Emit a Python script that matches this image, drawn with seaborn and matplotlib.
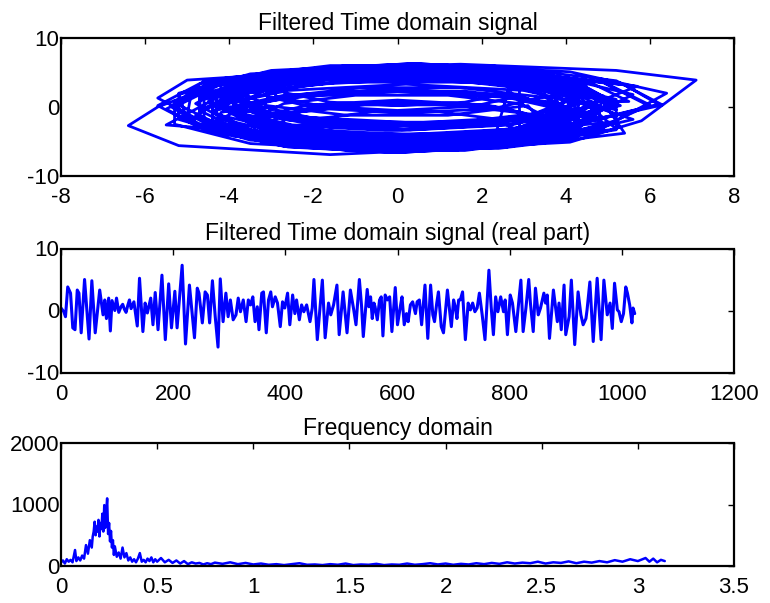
import matplotlib
matplotlib.use("Agg")
import matplotlib.pyplot as plt
import seaborn as sns

# Complex signal trajectory: real part (x) against imaginary part (y)
traj_re = [
    4.8, 3.9, 1.7, -1.1, -3.3, -4.2, -3.3, -1.1, 1.7, 3.9,
    4.3, 2.7, 0.0, -2.7, -4.3, -4.3, -2.7, 0.0, 2.7, 4.3,
    5.3, 4.3, 1.5, -1.9, -4.7, -5.7, -4.7, -1.9, 1.5, 4.3,
    5.2, 3.4, 0.3, -2.8, -4.6, -4.6, -2.8, 0.3, 3.4, 5.2,
    3.7, 3.0, 1.3, -0.9, -2.6, -3.3, -2.6, -0.9, 1.3, 3.0,
    4.8, 3.0, 0.2, -2.6, -4.4, -4.4, -2.6, 0.2, 3.0, 4.8,
    6.0, 4.9, 2.1, -1.3, -4.1, -5.2, -4.1, -1.3, 2.1, 4.9,
    6.4, 4.1, 0.4, -3.0, -5.2, -5.0, -3.0, 0.4, 4.1, 5.8,
    7.1, 5.2, 1.5, -2.0, -4.4, -5.7, -6.4, -5.2, -1.6, 2.7, 5.2,
    5.2, 4.3, 1.7, -1.4, -3.9, -4.8, -3.9, -1.4, 1.7, 4.3,
    3.5, 2.1, -0.3, -2.7, -4.1, -4.1, -2.7, -0.3, 2.1, 3.5,
    4.4, 3.6, 1.5, -1.1, -3.2, -4.0, -3.2, -1.1, 1.5, 3.6,
    4.4, 2.7, 0.0, -2.7, -4.4, -4.4, -2.7, 0.0, 2.7, 4.4,
    3.6, 2.9, 1.2, -1.0, -2.7, -3.4, -2.7, -1.0, 1.2, 2.9,
    5.7, 3.2, 0.0, -3.2, -4.9, -5.0, -3.2, 0.0, 3.2, 5.1,
    6.2, 5.4, 2.4, -1.4, -4.4, -5.5, -4.4, -1.4, 2.4, 5.4,
    4.8, 3.0, 0.2, -2.6, -4.4, -4.4, -2.6, 0.2, 3.0, 4.8,
    4.3, 3.5, 1.5, -0.9, -2.9, -3.7, -2.9, -0.9, 1.5, 3.5,
    4.3, 2.8, 0.3, -2.2, -3.7, -3.7, -2.2, 0.3, 2.8, 4.3,
    5.2, 4.2, 1.5, -1.7, -5.0, -5.7, -4.4, -1.7, 1.5, 4.2,
    5.0, 4.1, 1.8, -1.0, -3.3, -4.2, -3.3, -1.0, 1.8, 4.1,
    3.5, 2.3, 0.2, -1.9, -3.1, -3.1, -1.9, 0.2, 2.3, 3.5,
    5.2, 4.3, 1.7, -1.4, -3.9, -5.5, -3.9, -1.4, 1.7, 4.3,
    4.3, 2.7, 0.1, -2.5, -4.1, -4.1, -2.5, 0.1, 2.7, 4.3,
    4.5, 3.7, 1.5, -1.3, -3.5, -4.3, -3.5, -1.3, 1.5, 3.7,
    3.4, 2.1, 0.0, -2.1, -3.4, -3.4, -2.1, 0.0, 2.1, 3.4,
    6.0, 4.9, 2.0, -1.6, -4.5, -5.4, -4.5, -1.6, 2.0, 4.9,
    4.7, 2.9, 0.0, -2.9, -4.7, -4.7, -2.9, 0.0, 2.9, 4.7,
    5.2, 4.3, 1.7, -1.4, -3.9, -4.8, -3.9, -1.4, 1.7, 4.3,
    4.2, 2.6, 0.0, -2.6, -4.2, -4.2, -2.6, 0.0, 2.6, 4.2,
    4.8, 3.9, 1.6, -1.2, -3.5, -4.4, -3.5, -1.2, 1.6, 3.9,
    5.6, 3.5, 0.0, -3.5, -5.2, -5.2, -3.5, 0.0, 3.5, 5.6,
    4.2, 3.5, 1.5, -0.9, -2.9, -3.6, -2.9, -0.9, 1.5, 3.5,
    4.5, 2.9, 0.4, -2.1, -3.7, -3.7, -2.1, 0.4, 2.9, 4.5,
    5.5, 4.5, 2.1, -1.1, -3.5, -4.5, -3.5, -1.1, 2.1, 4.5,
    4.9, 2.9, -0.3, -3.5, -5.3, -5.3, -3.5, -0.3, 2.9, 4.9,
    3.9, 3.2, 1.2, -1.2, -3.2, -3.9, -3.2, -1.2, 1.2, 3.2,
    4.3, 2.7, 0.2, -2.3, -3.9, -3.9, -2.3, 0.2, 2.7, 4.3,
    4.7, 3.8, 1.5, -1.5, -3.8, -4.7, -3.8, -1.5, 1.5, 3.8,
    4.9, 3.1, 0.1, -2.9, -4.7, -4.7, -2.9, 0.1, 3.1, 4.9,
    6.3, 5.2, 2.2, -1.6, -4.6, -5.3, -4.6, -1.6, 2.2, 5.2,
    4.2, 2.7, 0.3, -2.1, -3.6, -3.6, -2.1, 0.3, 2.7, 4.2,
    3.6, 2.3, 0.2, -1.9, -3.2, -3.2, -1.9, 0.2, 2.3, 3.6,
    3.8, 3.1, 1.2, -1.2, -3.1, -3.8, -3.1, -1.2, 1.2, 3.1,
    3.5, 2.9, 1.3, -0.7, -2.3, -2.9, -2.3, -0.7, 1.3, 2.9,
    2.9, 1.8, 0.0, -1.8, -2.9, -2.9, -1.8, 0.0, 1.8, 2.9,
    4.7, 3.8, 1.6, -1.2, -3.4, -4.3, -3.4, -1.2, 1.6, 3.8,
    4.2, 2.6, 0.0, -2.6, -4.2, -4.2, -2.6, 0.0, 2.6, 4.2,
    2.8, 2.3, 1.0, -0.6, -1.9, -2.4, -1.9, -0.6, 1.0, 2.3,
    2.7, 1.6, 0.0, -1.6, -2.7, -2.7, -1.6, 0.0, 1.6, 2.7,
    3.0,
]
traj_im = [
    1.5, 4.2, 5.8, 5.8, 4.2, 1.5, -1.2, -2.8, -2.8, -1.2,
    1.7, 3.9, 4.8, 3.9, 1.7, -1.1, -3.3, -4.2, -3.3, -1.1,
    0.2, 3.4, 5.4, 5.4, 3.4, 0.2, -3.0, -5.0, -5.0, -3.0,
    1.1, 3.7, 4.7, 3.7, 1.1, -2.1, -4.7, -5.7, -4.7, -2.1,
    -3.0, -0.9, 0.3, 0.3, -0.9, -3.0, -5.1, -6.3, -6.3, -5.1,
    0.0, 2.4, 3.3, 2.4, 0.0, -3.0, -5.4, -6.3, -5.4, -3.0,
    0.3, 3.6, 5.6, 5.6, 3.6, 0.3, -3.0, -5.0, -5.0, -3.0,
    2.0, 5.1, 6.3, 5.3, 2.0, -2.0, -5.1, -6.3, -5.1, -2.0,
    3.9, 5.3, 6.2, 5.6, 3.0, 0.0, -2.7, -5.6, -6.9, -5.7, -3.3,
    0.5, 3.5, 5.3, 5.3, 3.5, 0.5, -2.5, -4.3, -4.3, -2.5,
    1.8, 3.8, 4.6, 3.8, 1.8, -0.6, -2.6, -3.4, -2.6, -0.6,
    1.8, 4.3, 5.8, 5.8, 4.3, 1.8, -0.7, -2.2, -2.2, -0.7,
    -0.6, 1.7, 2.6, 1.7, -0.6, -3.4, -5.7, -6.6, -5.7, -3.4,
    -1.6, 0.5, 1.7, 1.7, 0.5, -1.6, -3.7, -4.9, -4.9, -3.7,
    3.0, 4.8, 5.8, 4.8, 2.1, -1.3, -3.9, -5.0, -4.0, -1.3,
    0.4, 3.2, 5.4, 5.4, 3.2, -0.3, -3.8, -6.0, -6.0, -3.8,
    1.5, 3.9, 4.8, 3.9, 1.5, -1.5, -3.9, -4.8, -3.9, -1.5,
    -1.0, 1.4, 2.8, 2.8, 1.4, -1.0, -3.4, -4.8, -4.8, -3.4,
    1.1, 3.2, 4.0, 3.2, 1.1, -1.5, -3.6, -4.4, -3.6, -1.5,
    0.2, 3.3, 5.2, 5.2, 3.9, 1.3, -2.9, -4.8, -4.8, -2.9,
    0.5, 3.2, 4.9, 4.9, 3.2, 0.5, -2.2, -3.9, -3.9, -2.2,
    3.7, 5.4, 6.1, 5.4, 3.7, 1.5, -0.2, -0.9, -0.2, 1.5,
    -0.4, 2.6, 4.4, 4.4, 2.6, -2.6, -3.4, -5.2, -5.2, -3.4,
    2.4, 4.6, 5.4, 4.6, 2.4, -0.4, -2.6, -3.4, -2.6, -0.4,
    0.2, 2.8, 4.4, 4.4, 2.8, 0.2, -2.4, -4.0, -4.0, -2.4,
    -1.5, 0.3, 1.0, 0.3, -1.5, -3.7, -5.5, -6.2, -5.5, -3.7,
    0.1, 3.5, 5.6, 5.6, 3.5, 0.1, -3.3, -5.4, -5.4, -3.3,
    1.3, 3.8, 4.7, 3.8, 1.3, -1.7, -4.2, -5.1, -4.2, -1.7,
    -1.2, 1.8, 3.6, 3.6, 1.8, -1.2, -4.2, -6.0, -6.0, -4.2,
    -0.8, 1.4, 2.2, 1.4, -0.8, -3.6, -5.8, -6.6, -5.8, -3.6,
    -0.6, 2.1, 3.8, 3.8, 2.1, -0.6, -3.3, -5.0, -5.0, -3.3,
    1.8, 4.8, 5.9, 4.8, 1.8, -1.8, -4.8, -5.9, -4.8, -1.8,
    1.0, 3.3, 4.7, 4.7, 3.3, 1.0, -1.3, -2.7, -2.7, -1.3,
    3.3, 5.5, 6.3, 5.5, 3.3, 0.7, -1.5, -2.3, -1.5, 0.7,
    0.8, 3.8, 5.6, 5.6, 3.8, 0.8, -2.2, -4.0, -4.0, -2.2,
    0.9, 3.7, 4.7, 3.7, 0.9, -2.5, -5.3, -6.3, -5.3, -2.5,
    1.2, 3.5, 4.9, 4.9, 3.5, 1.2, -1.1, -2.5, -2.5, -1.1,
    1.6, 3.8, 4.6, 3.8, 1.6, -1.0, -3.2, -4.0, -3.2, -1.0,
    -0.5, 2.3, 4.0, 4.0, 2.3, -0.5, -3.3, -5.0, -5.0, -3.3,
    1.6, 4.1, 5.1, 4.1, 1.6, -1.6, -4.1, -5.1, -4.1, -1.6,
    0.3, 3.8, 6.0, 6.0, 3.8, 0.3, -3.2, -5.4, -5.4, -3.2,
    2.1, 4.1, 4.9, 4.1, 2.1, -0.5, -2.5, -3.3, -2.5, -0.5,
    -1.7, 0.1, 0.8, 0.1, -1.7, -3.9, -5.7, -6.4, -5.7, -3.9,
    2.4, 4.6, 6.0, 6.0, 4.6, 2.4, 0.2, -1.2, -1.2, 0.2,
    -2.6, -0.7, 0.4, 0.4, -0.7, -2.6, -4.5, -5.6, -5.6, -4.5,
    3.4, 4.9, 5.5, 4.9, 3.4, 1.6, 0.1, -0.5, 0.1, 1.6,
    -2.0, 0.6, 2.3, 2.3, 0.6, -2.0, -4.6, -6.3, -6.3, -4.6,
    3.1, 5.3, 6.1, 5.3, 3.1, 0.3, -1.9, -2.7, -1.9, 0.3,
    -3.2, -1.7, -0.7, -0.7, -1.7, -3.2, -4.7, -5.7, -5.7, -4.7,
    3.9, 5.3, 5.8, 5.3, 3.9, 2.1, 0.7, 0.2, 0.7, 2.1,
    0.3,
]

# Real part against sample index
sample_idx = [
    0, 5, 8, 12, 17, 21, 25, 29, 32, 36, 42, 50, 55, 61, 69, 75, 78, 81, 85, 88,
    91, 96, 99, 103, 107, 110, 113, 116, 119, 122, 125, 130, 136, 140, 146, 150,
    154, 160, 164, 168, 173, 180, 186, 192, 197, 203, 207, 216, 222, 229, 238,
    243, 246, 252, 257, 261, 265, 270, 275, 280, 284, 289, 294, 298, 302, 307,
    312, 316, 320, 325, 330, 334, 338, 342, 346, 350, 353, 358, 361, 366, 370,
    374, 377, 382, 386, 391, 395, 399, 404, 408, 413, 417, 420, 425, 429, 433,
    438, 444, 448, 451, 457, 466, 471, 477, 481, 486, 492, 496, 503, 510, 516,
    522, 526, 532, 536, 539, 546, 549, 552, 555, 558, 560, 564, 568, 571, 574,
    578, 582, 586, 590, 596, 600, 605, 608, 612, 616, 619, 623, 627, 632, 635,
    639, 643, 649, 654, 659, 663, 666, 670, 673, 678, 682, 689, 696, 700, 703,
    706, 709, 712, 716, 721, 726, 730, 734, 738, 742, 746, 751, 756, 763, 767,
    771, 775, 779, 784, 789, 792, 796, 801, 805, 811, 820, 824, 829, 834, 837,
    842, 846, 851, 855, 861, 864, 867, 871, 878, 885, 888, 892, 897, 900, 906,
    910, 916, 922, 927, 931, 936, 938, 943, 949, 956, 963, 968, 974, 979, 983,
    987, 992, 995, 999, 1003, 1007, 1010, 1014, 1018, 1020, 1023,
]
real_part = [
    0.4, -0.2, -1.0, 3.8, 2.8, -2.8, -3.1, 3.3, 2.8, -3.6, 5.0, -4.6, 4.8, -3.6, 3.3, -0.7, 1.7, -1.3, 2.0, -3.3,
    1.6, 0.0, 2.0, -0.3, 0.6, 1.0, 0.2, -0.3, 0.8, 1.7, 0.3, 1.4, -2.5, 5.2, -3.4, 1.2,
    -0.4, 2.0, -2.3, 2.9, -3.1, 5.7, -4.7, 4.3, -2.8, 3.1, -2.8, 7.3, -5.4, 4.1, -4.4,
    3.6, 2.8, -2.0, 3.0, 2.5, -2.0, 4.8, -1.0, -5.9, 5.1, -1.8, 2.8, -1.0, 1.7, -1.5,
    -0.7, 2.0, -0.2, 1.7, -1.8, 1.7, 0.9, 2.2, -1.8, 0.6, -3.1, 2.8, 3.0, -3.6, 1.7,
    3.0, 0.6, 2.2, 1.2, -2.6, 1.4, 0.4, 2.8, -2.3, 2.5, -0.5, 1.7, -1.5, 0.9, -0.2,
    0.9, -1.8, 0.4, 5.0, -4.7, 4.9, -4.4, 1.2, -0.7, 0.9, 4.1, -3.9, 3.0, -3.6, 3.3,
    0.1, -2.3, 5.0, 0.6, -4.2, 3.4, 0.6, 2.2, -1.3, 1.2, 0.6, -1.5, 1.7, 2.2, -4.1,
    2.5, 1.7, 2.2, -3.4, 3.7, -2.3, 0.6, 2.2, -2.3, -0.5, -1.8, 0.9, 1.4, -0.5, 1.4,
    1.7, -2.3, 4.1, -4.5, 4.1, -0.7, -1.8, 1.2, 3.0, -2.6, -3.6, 3.3, -2.6, 1.7, 0.6,
    -1.3, 1.7, 1.7, 3.0, -4.7, 1.2, 0.1, 1.2, -0.2, 0.4, 2.8, -0.7, -4.7, 6.5, 0.6,
    -3.9, 2.2, -0.2, 2.2, -0.2, 1.7, -3.9, 2.5, 1.2, -3.4, 4.9, -3.4, 0.4, 5.0, 1.2,
    -3.4, 3.6, -0.7, 0.4, 2.8, 1.2, 2.5, -4.5, 3.3, -1.8, 1.2, -3.1, 4.1, -3.9, -1.0,
    4.9, -5.5, 3.0, -0.7, -2.3, -1.3, 0.1, 4.6, -5.0, 5.2, -4.7, 4.9, -0.7, 1.2, -2.9,
    4.4, 0.1, -0.2, -1.8, -0.5, 3.8, 2.8, 0.9, -2.0, 0.4, -0.5,
]

# Magnitude spectrum against frequency (rad/sample)
freq = [
    0.00, 0.01, 0.02, 0.03, 0.04, 0.05, 0.06, 0.073, 0.08, 0.09, 0.10, 0.11,
    0.12, 0.13, 0.14, 0.15, 0.16, 0.165, 0.17, 0.175, 0.18, 0.185, 0.19, 0.195,
    0.20, 0.205, 0.21, 0.215, 0.22, 0.225, 0.23, 0.235, 0.24, 0.245, 0.25, 0.255,
    0.26, 0.265, 0.27, 0.275, 0.28, 0.29, 0.30, 0.31, 0.32, 0.33, 0.34, 0.35,
    0.36, 0.37, 0.38, 0.39, 0.40, 0.41, 0.42, 0.43, 0.44, 0.45, 0.46, 0.47,
    0.48, 0.49, 0.50, 0.52, 0.54, 0.56, 0.58, 0.60, 0.62, 0.64, 0.66, 0.68,
    0.70, 0.72, 0.74, 0.76, 0.78, 0.80, 0.84, 0.88, 0.92, 0.96, 1.00, 1.04,
    1.08, 1.12, 1.16, 1.20, 1.24, 1.28, 1.32, 1.36, 1.40, 1.44, 1.48, 1.52,
    1.56, 1.60, 1.64, 1.68, 1.72, 1.76, 1.80, 1.84, 1.88, 1.92, 1.96, 2.00,
    2.04, 2.08, 2.12, 2.16, 2.20, 2.24, 2.28, 2.32, 2.36, 2.40, 2.44, 2.48,
    2.52, 2.56, 2.60, 2.64, 2.68, 2.72, 2.76, 2.80, 2.84, 2.88, 2.92, 2.96,
    3.00, 3.04, 3.06, 3.08, 3.10, 3.12, 3.14,
]
magnitude = [
    60, 90, 40, 110, 70, 100, 60, 260, 80, 140, 90, 170,
    120, 340, 200, 420, 300, 480, 560, 720, 500, 640, 560, 750,
    480, 700, 600, 850, 560, 990, 620, 880, 1100, 520, 700, 400,
    570, 300, 420, 180, 320, 150, 220, 120, 300, 140, 210, 90,
    140, 70, 110, 60, 120, 210, 70, 100, 60, 120, 80, 140,
    60, 110, 70, 130, 60, 100, 50, 90, 40, 80, 30, 60,
    40, 50, 25, 45, 30, 55, 35, 60, 30, 50, 25, 40,
    20, 30, 15, 30, 45, 20, 25, 15, 30, 20, 40, 15,
    25, 20, 35, 15, 25, 20, 40, 20, 30, 45, 25, 40,
    20, 35, 25, 45, 30, 50, 35, 60, 40, 55, 45, 70,
    40, 60, 50, 75, 45, 70, 55, 80, 60, 95, 70, 110,
    80, 130, 70, 120, 60, 100, 80,
]

sns.set_theme(style="white")
plt.rcParams["font.family"] = ["Liberation Sans", "DejaVu Sans"]
plt.rcParams["axes.unicode_minus"] = False

LINE = "#0000ff"
TICK_FS = 16
TITLE_FS = 16.5

fig = plt.figure(figsize=(7.7, 6.03), dpi=100)
W, H = 770.0, 603.0
ax1 = fig.add_axes([61 / W, 1 - 176 / H, 673 / W, 138 / H])
ax2 = fig.add_axes([61 / W, 1 - 372.5 / H, 673 / W, 124 / H])
ax3 = fig.add_axes([61 / W, 1 - 566 / H, 673 / W, 123 / H])

sns.lineplot(x=traj_re, y=traj_im, sort=False, estimator=None,
             color=LINE, lw=2.0, ax=ax1)
sns.lineplot(x=sample_idx, y=real_part, sort=False, estimator=None,
             color=LINE, lw=2.2, ax=ax2)
sns.lineplot(x=freq, y=magnitude, sort=False, estimator=None,
             color=LINE, lw=1.8, ax=ax3)


def style(ax, xlim, xticks, xlabels, ylim, yticks, ylabels, title):
    ax.set_xlim(*xlim)
    ax.set_ylim(*ylim)
    ax.set_xticks(xticks)
    ax.set_xticklabels(xlabels)
    ax.set_yticks(yticks)
    ax.set_yticklabels(ylabels)
    ax.set_xlabel("")
    ax.set_ylabel("")
    ax.tick_params(direction="in", length=4, width=1, colors="black",
                   top=True, right=True, labelsize=TICK_FS)
    ax.tick_params(axis="x", pad=8)
    ax.tick_params(axis="y", pad=1)
    for sp in ax.spines.values():
        sp.set_visible(True)
        sp.set_color("black")
        sp.set_linestyle((0, (1, 1)))
        sp.set_linewidth(1.6)
    ax.set_title(title, fontsize=TITLE_FS, pad=6, color="black")


style(ax1, (-8, 8), list(range(-8, 9, 2)), [str(v) for v in range(-8, 9, 2)],
      (-10, 10), [-10, 0, 10], ["-10", "0", "10"],
      "Filtered Time domain signal")
style(ax2, (0, 1200), list(range(0, 1201, 200)), [str(v) for v in range(0, 1201, 200)],
      (-10, 10), [-10, 0, 10], ["-10", "0", "10"],
      "Filtered Time domain signal (real part)")
style(ax3, (0, 3.5), [0, 0.5, 1, 1.5, 2, 2.5, 3, 3.5],
      ["0", "0.5", "1", "1.5", "2", "2.5", "3", "3.5"],
      (0, 2000), [0, 1000, 2000], ["0", "1000", "2000"],
      "Frequency domain")

fig.savefig("out.png", dpi=100)
